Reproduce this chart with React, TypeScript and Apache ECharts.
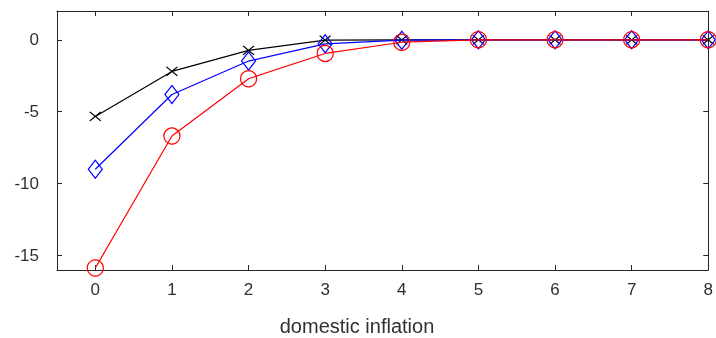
import React, { useEffect, useRef } from "react";
import * as echarts from "echarts";

const horizons = [0, 1, 2, 3, 4, 5, 6, 7, 8];
const seriesBlack = [-5.33, -2.2, -0.74, -0.03, 0, 0, 0, 0, 0];
const seriesBlue = [-9.0, -3.8, -1.48, -0.28, -0.03, 0, 0, 0, 0];
const seriesRed = [-15.86, -6.69, -2.71, -0.95, -0.17, 0, 0, 0, 0];
const yTicks = [-15, -10, -5, 0];
const xTicks = [0, 1, 2, 3, 4, 5, 6, 7, 8];
const xLabel = "domestic inflation";

const FONT = "'Liberation Sans', Arial, Helvetica, sans-serif";
const AX = "#262626";

export default function App() {
  const ref = useRef<HTMLDivElement>(null);
  useEffect(() => {
    if (!ref.current) return;
    const chart = echarts.init(ref.current, null, { renderer: "svg" });
    const pts = (arr: number[]) => horizons.map((h, i) => [h, arr[i]]);
    const axisLine = { show: true, onZero: false, lineStyle: { color: AX, width: 1 } };
    chart.setOption({
      animation: false,
      grid: { left: 57, top: 11, right: 5, bottom: 68 },
      xAxis: [
        {
          type: "value",
          min: -0.5,
          max: 8,
          axisLine,
          splitLine: { show: false },
          axisTick: { show: true, inside: true, length: 5, customValues: xTicks, lineStyle: { color: AX } },
          axisLabel: { show: true, customValues: xTicks, color: "#303030", fontSize: 17, fontFamily: FONT, margin: 11 },
        },
        {
          type: "value",
          position: "top",
          min: -0.5,
          max: 8,
          axisLine,
          splitLine: { show: false },
          axisTick: { show: true, inside: true, length: 5, customValues: xTicks, lineStyle: { color: AX } },
          axisLabel: { show: false },
        },
      ],
      yAxis: [
        {
          type: "value",
          min: -16,
          max: 2,
          axisLine,
          splitLine: { show: false },
          axisTick: { show: true, inside: true, length: 5, customValues: yTicks, lineStyle: { color: AX } },
          axisLabel: { show: true, customValues: yTicks, color: "#303030", fontSize: 17, fontFamily: FONT, margin: 18 },
        },
        {
          type: "value",
          position: "right",
          min: -16,
          max: 2,
          axisLine,
          splitLine: { show: false },
          axisTick: { show: true, inside: true, length: 5, customValues: yTicks, lineStyle: { color: AX } },
          axisLabel: { show: false },
        },
      ],
      graphic: [
        {
          type: "text",
          x: 357,
          y: 326,
          style: {
            text: xLabel,
            fill: "#303030",
            font: `20px ${FONT}`,
            textAlign: "center",
            textVerticalAlign: "middle",
          },
        },
      ],
      series: [
        {
          type: "line",
          data: pts(seriesBlack),
          symbol: "path://M0 0L10 10M10 0L0 10",
          symbolSize: [11, 9],
          symbolKeepAspect: false,
          lineStyle: { color: "#000", width: 1.2 },
          itemStyle: { color: "none", borderColor: "#000", borderWidth: 1.2 },
          z: 2,
        },
        {
          type: "line",
          data: pts(seriesBlue),
          symbol: "diamond",
          symbolSize: [14, 18],
          lineStyle: { color: "#0000ff", width: 1.2 },
          itemStyle: { color: "none", borderColor: "#0000ff", borderWidth: 1.2 },
          z: 3,
        },
        {
          type: "line",
          data: pts(seriesRed),
          symbol: "circle",
          symbolSize: 16,
          lineStyle: { color: "#ff0000", width: 1.2 },
          itemStyle: { color: "none", borderColor: "#ff0000", borderWidth: 1.2 },
          z: 4,
        },
      ],
    });
    return () => chart.dispose();
  }, []);
  return (
    <div
      ref={ref}
      style={{ position: "fixed", left: 0, top: 0, width: 716, height: 338 }}
    />
  );
}
